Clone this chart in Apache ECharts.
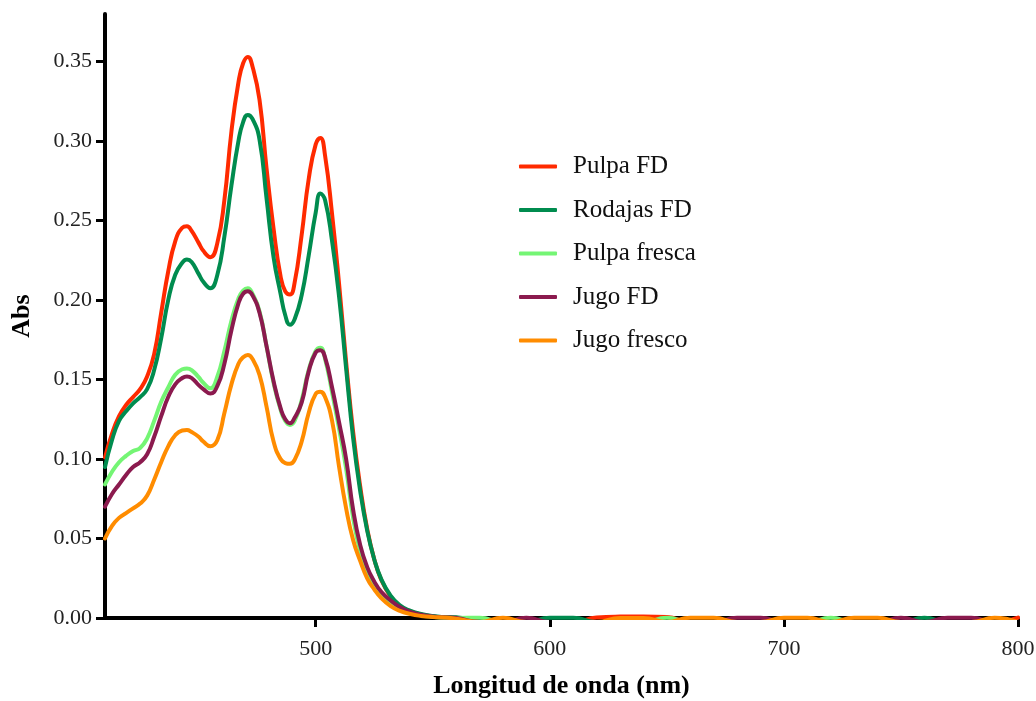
<!DOCTYPE html>
<html>
<head>
<meta charset="utf-8">
<script src="https://cdn.jsdelivr.net/npm/echarts/dist/echarts.min.js"></script>
<style>
html,body{margin:0;padding:0;background:#fff;}
#chart{width:1036px;height:701px;}
</style>
</head>
<body>
<div id="chart"></div>
<script>
// Wavelength (nm)
const wavelength = [410,413,416,419,422,425,428,431,434,437,440,443,445,447,450,452,455,458,461,464,467,469,471,473,476,479,482,485,487,489,491,494,497,500,502,504,507,510,513,516,519,522,525,528,532,536,540,545,550,555,560,
  570,580,590,600,610,620,630,640,650,660,670,680,690,700,710,720,730,740,750,760,770,780,790,800];

const seriesNames = ['Pulpa FD','Rodajas FD','Pulpa fresca','Jugo FD','Jugo fresco'];

const pulpaFD = [0.101,0.116,0.127,0.134,0.139,0.144,0.152,0.166,0.192,0.218,0.237,0.2455,0.2465,0.2435,0.236,0.231,0.227,0.236,0.263,0.306,0.337,0.349,0.353,0.347,0.326,0.283,0.245,0.215,0.2055,0.2035,0.211,0.241,0.276,0.298,0.302,0.291,0.254,0.210,0.161,0.117,0.083,0.056,0.037,0.0240,0.0135,0.0075,0.0045,0.0022,0.0010,0.0004,0.0001,
  -0.0025,-0.0025,-0.0025,-0.0025,-0.0025,0.0003,0.0009,0.0010,0.0006,-0.0025,-0.0025,-0.0025,-0.0025,-0.0025,-0.0025,-0.0025,-0.0025,-0.0025,-0.0025,-0.0025,-0.0025,-0.0025,-0.0025,0.0002];

const rodajasFD = [0.095,0.112,0.124,0.130,0.135,0.139,0.144,0.156,0.176,0.200,0.216,0.2235,0.2255,0.224,0.2165,0.2115,0.2075,0.216,0.240,0.272,0.300,0.312,0.3165,0.314,0.301,0.264,0.227,0.204,0.1905,0.1845,0.188,0.203,0.228,0.255,0.267,0.263,0.237,0.202,0.157,0.113,0.080,0.055,0.037,0.0245,0.0140,0.0080,0.0048,0.0025,0.0012,0.0006,0.0004,
  -0.0025,-0.0025,-0.0025,0.0002,0.0002,-0.0025,-0.0025,-0.0025,-0.0025,-0.0025,-0.0025,-0.0025,-0.0025,-0.0025,-0.0025,-0.0025,-0.0025,-0.0025,-0.0025,0.0001,-0.0025,-0.0025,-0.0025,-0.0025];

const pulpaFresca = [0.084,0.092,0.098,0.102,0.105,0.107,0.113,0.124,0.136,0.145,0.153,0.1565,0.157,0.156,0.1515,0.148,0.1445,0.152,0.168,0.187,0.201,0.206,0.2075,0.204,0.193,0.171,0.148,0.131,0.124,0.1215,0.124,0.137,0.156,0.168,0.170,0.163,0.142,0.119,0.094,0.063,0.042,0.029,0.021,0.015,0.0095,0.0060,0.0035,0.0017,0.0008,0.0002,0.0,
  0.0002,-0.0025,-0.0025,-0.0025,-0.0025,-0.0025,-0.0025,-0.0025,0.0002,-0.0025,-0.0025,-0.0025,-0.0025,-0.0025,-0.0025,0.0002,-0.0025,-0.0025,-0.0025,-0.0025,-0.0025,-0.0025,-0.0025,-0.0025];

const jugoFD = [0.070,0.078,0.084,0.090,0.095,0.098,0.103,0.114,0.127,0.139,0.147,0.151,0.152,0.151,0.1465,0.144,0.1412,0.146,0.160,0.181,0.198,0.204,0.2055,0.203,0.192,0.171,0.149,0.132,0.125,0.1225,0.126,0.1355,0.155,0.167,0.1685,0.164,0.145,0.123,0.100,0.068,0.046,0.032,0.023,0.0165,0.011,0.0068,0.004,0.002,0.001,0.0004,0.0,
  -0.0025,-0.0025,0.0002,-0.0025,-0.0025,-0.0025,-0.0025,-0.0025,-0.0025,-0.0025,-0.0025,0.0002,0.0002,-0.0025,-0.0025,-0.0025,-0.0025,-0.0025,0.0002,-0.0025,0.0002,0.0002,-0.0025,-0.0025];

const jugoFresco = [0.050,0.058,0.063,0.066,0.069,0.072,0.077,0.087,0.098,0.108,0.115,0.118,0.1183,0.117,0.114,0.111,0.108,0.112,0.129,0.147,0.160,0.164,0.1655,0.163,0.153,0.133,0.111,0.100,0.0975,0.097,0.0995,0.111,0.129,0.141,0.1424,0.139,0.124,0.095,0.069,0.049,0.036,0.025,0.018,0.0125,0.0075,0.0045,0.0027,0.0013,0.0006,0.0003,-0.0004,
  -0.0025,0.0002,-0.0025,-0.0025,-0.0025,-0.0025,0.0,0.0,-0.0025,0.0002,0.0002,-0.0025,-0.0025,0.0002,0.0002,-0.0025,0.0002,0.0002,-0.0025,-0.0025,-0.0025,-0.0025,0.0002,-0.0025];

const seriesValues = [pulpaFD, rodajasFD, pulpaFresca, jugoFD, jugoFresco];
const seriesColors = ['#FF2A00','#008C4F','#74F574','#8B1A4E','#FF8C00'];

const yTicks = [0.00,0.05,0.10,0.15,0.20,0.25,0.30,0.35];
const xTicks = [500,600,700,800];

const FONT = '"Liberation Serif", "DejaVu Serif", serif';

const chart = echarts.init(document.getElementById('chart'), null, {renderer:'canvas'});
chart.setOption({
  animation: false,
  backgroundColor: '#ffffff',
  grid: {left: 105, right: 18, top: 14, bottom: 83, containLabel: false, outerBoundsMode: 'none'},
  legend: {
    orient: 'vertical',
    left: 519,
    top: 154,
    padding: 0,
    icon: 'roundRect',
    itemWidth: 38,
    itemHeight: 4,
    itemGap: 18.5,
    data: seriesNames,
    textStyle: {fontFamily: FONT, fontSize: 25, color: '#111', lineHeight: 23, padding: [0,0,0,11]}
  },
  xAxis: {
    type: 'value',
    min: 410,
    max: 800,
    name: 'Longitud de onda (nm)',
    nameLocation: 'middle',
    nameGap: 55,
    nameTextStyle: {fontFamily: FONT, fontSize: 26, fontWeight: 'bold', color: '#000'},
    axisLine: {show: true, lineStyle: {color: '#000', width: 4}},
    axisTick: {show: true, length: 9, lineStyle: {color: '#000', width: 3}, customValues: xTicks},
    axisLabel: {fontFamily: FONT, fontSize: 22, color: '#222', margin: 20, customValues: xTicks},
    splitLine: {show: false}
  },
  yAxis: {
    type: 'value',
    min: 0,
    max: 0.38,
    name: 'Abs',
    nameLocation: 'middle',
    nameRotate: 90,
    nameGap: 70,
    nameTextStyle: {fontFamily: FONT, fontSize: 26, fontWeight: 'bold', color: '#000'},
    axisLine: {show: true, lineStyle: {color: '#000', width: 4}},
    axisTick: {show: true, length: 9, lineStyle: {color: '#000', width: 3}, customValues: yTicks},
    axisLabel: {fontFamily: FONT, fontSize: 22, color: '#222', margin: 13, customValues: yTicks,
      formatter: v => Number(v).toFixed(2)},
    splitLine: {show: false}
  },
  series: seriesNames.map((n, i) => ({
    name: n,
    type: 'line',
    data: wavelength.map((w, j) => [w, seriesValues[i][j]]),
    showSymbol: false,
    symbol: 'none',
    smooth: 0.5,
    clip: true,
    lineStyle: {width: 4, color: seriesColors[i], cap: 'round', join: 'round'},
    itemStyle: {color: seriesColors[i]}
  }))
});
</script>
</body>
</html>
